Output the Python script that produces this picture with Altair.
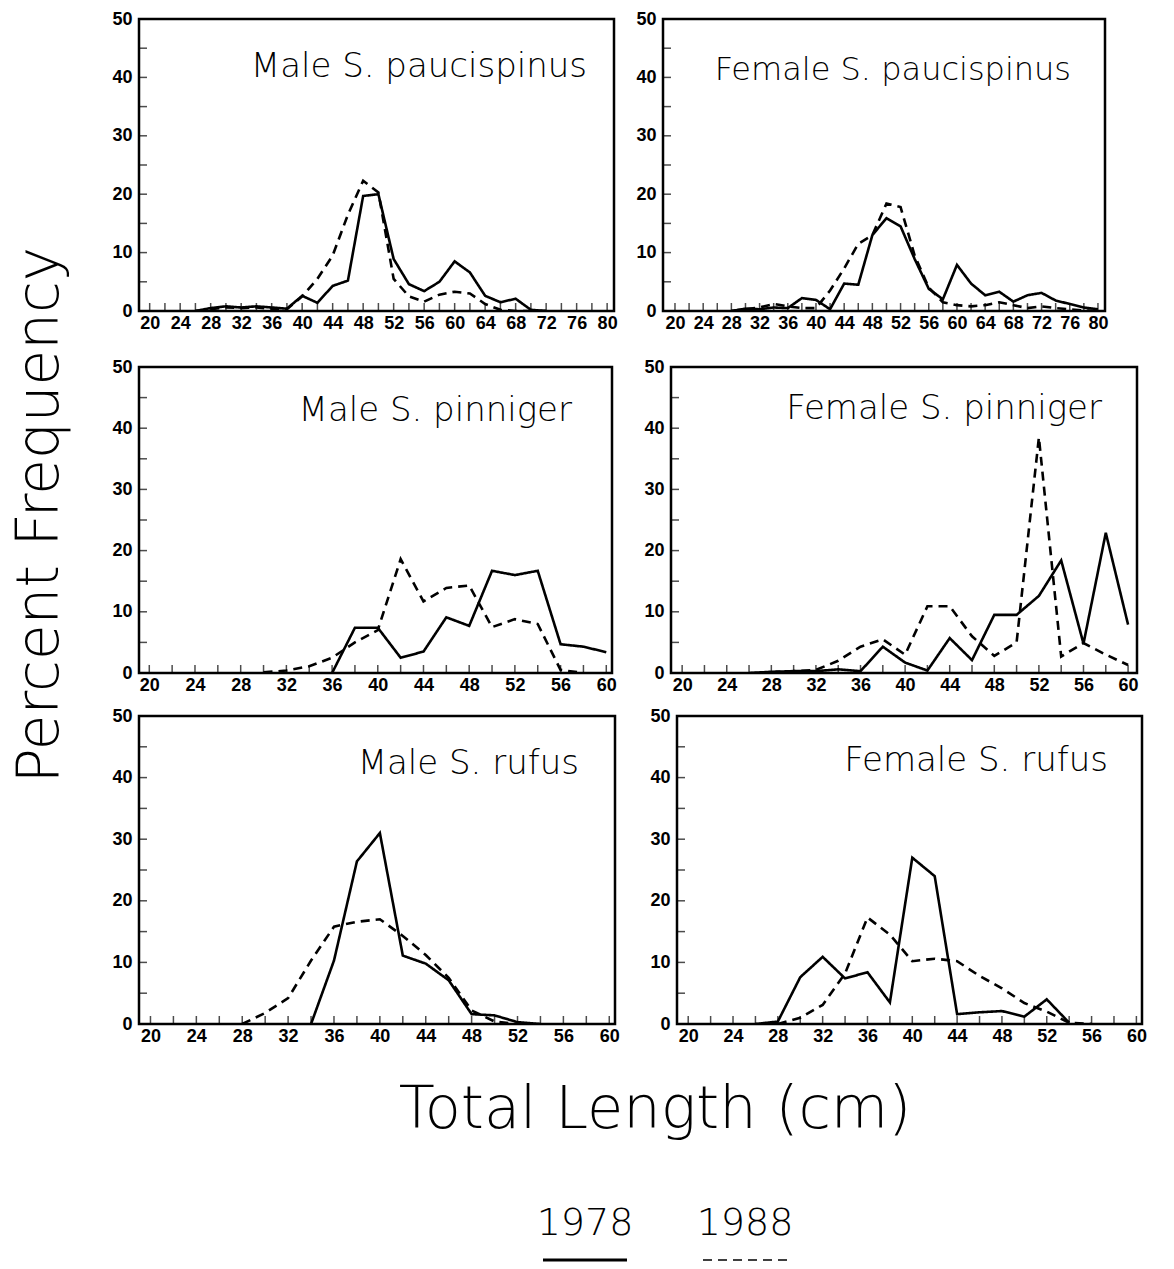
import altair as alt
import pandas as pd

YEARS = ["1978", "1988"]

# ---- Male S. paucispinus ----
X_MPAUC = [26, 28, 30, 32, 34, 36, 38, 40, 42, 44, 46, 48, 50, 52, 54, 56, 58, 60, 62, 64, 66, 68, 70, 72]
MPAUC_1978 = [0, 0.5, 0.8, 0.6, 0.8, 0.6, 0.4, 2.6, 1.4, 4.3, 5.2, 19.7, 20.0, 8.9, 4.6, 3.4, 5.0, 8.5, 6.6, 2.6, 1.5, 2.1, 0.2, 0]
MPAUC_1988 = [0, 0.3, 0.6, 0.5, 0.6, 0.4, 0.3, 2.5, 5.5, 9.5, 16.5, 22.3, 20.3, 5.5, 2.5, 1.6, 2.8, 3.3, 3.0, 1.2, 0.2, 0, 0, 0]

# ---- Female S. paucispinus ----
X_FPAUC = [28, 30, 32, 34, 36, 38, 40, 42, 44, 46, 48, 50, 52, 54, 56, 58, 60, 62, 64, 66, 68, 70, 72, 74, 76, 78, 80]
FPAUC_1978 = [0, 0.4, 0.3, 0.6, 0.5, 2.2, 1.9, 0.3, 4.7, 4.5, 13.0, 15.9, 14.5, 8.9, 3.8, 2.0, 7.9, 4.7, 2.7, 3.3, 1.6, 2.7, 3.1, 1.8, 1.2, 0.6, 0.3]
FPAUC_1988 = [0, 0.3, 0.6, 1.2, 0.8, 0.5, 0.5, 3.5, 7.3, 11.5, 13.0, 18.4, 17.8, 9.5, 4.0, 1.5, 1.0, 0.8, 1.0, 1.5, 1.0, 0.5, 0.8, 0.5, 0.3, 0.1, 0]

# lengths 20..60 for the other four panels
X_60 = [20, 22, 24, 26, 28, 30, 32, 34, 36, 38, 40, 42, 44, 46, 48, 50, 52, 54, 56, 58, 60]
N = None
MPINN_1978 = [N, N, N, N, N, N, N, N, 0, 7.4, 7.4, 2.5, 3.5, 9.1, 7.7, 16.7, 16.0, 16.7, 4.7, 4.3, 3.4]
MPINN_1988 = [N, N, N, N, N, 0.1, 0.4, 1.1, 2.5, 5.0, 7.0, 18.6, 11.7, 13.9, 14.3, 7.5, 8.8, 8.0, 0.5, 0, N]
FPINN_1978 = [N, N, N, 0, 0.2, 0.3, 0.3, 0.6, 0.3, 4.3, 1.7, 0.4, 5.7, 2.1, 9.5, 9.5, 12.6, 18.4, 4.8, 22.9, 7.9]
FPINN_1988 = [N, N, N, N, 0.1, 0.3, 0.5, 2.0, 4.3, 5.5, 3.0, 10.9, 10.9, 6.0, 2.8, 5.0, 38.5, 2.7, 4.9, 3.0, 1.3]
MRUF_1978 = [N, N, N, N, N, N, N, 0, 10.3, 26.4, 31.0, 11.1, 9.8, 7.1, 1.6, 1.4, 0.3, 0, N, N, N]
MRUF_1988 = [N, N, N, N, 0, 1.8, 4.2, 10.3, 15.8, 16.6, 17.0, 14.3, 11.2, 7.5, 2.2, 0.4, 0, N, N, N, N]
FRUF_1978 = [N, N, N, 0, 0.4, 7.6, 10.9, 7.4, 8.4, 3.5, 27.0, 24.0, 1.6, 1.9, 2.1, 1.2, 4.0, 0.2, N, N, N]
FRUF_1988 = [N, N, N, N, 0, 1.0, 3.1, 8.2, 17.3, 14.5, 10.2, 10.6, 10.2, 7.8, 5.8, 3.4, 2.0, 0.2, 0, N, N]

Y_LABELS = [0, 10, 20, 30, 40, 50]
Y_MINOR = [5, 10, 15, 20, 25, 30, 35, 40, 45]

TITLE_FONT = "DejaVu Sans"
TITLE_WEIGHT = 200
LABEL_FONT = "Liberation Sans"
NO_FRAME = alt.ViewBackground(stroke=None)


def panel(title, xs, s78, s88, domain, xmax_label, W, H, inset, base, tsize=34):
    rows = []
    for x, a, b in zip(xs, s78, s88):
        if a is not None:
            rows.append({"length": x, "pct": a, "year": "1978"})
        if b is not None:
            rows.append({"length": x, "pct": b, "year": "1988"})
    df = pd.DataFrame(rows)
    xscale = alt.Scale(domain=domain, nice=False, zero=False)
    yscale = alt.Scale(domain=[0, 50], nice=False, zero=False)
    xlabels = list(range(20, xmax_label + 1, 4))
    xminor = list(range(20, xmax_label + 1, 2))
    xaxis = alt.Axis(values=xlabels, labelPadding=3, title=None)
    yaxis = alt.Axis(values=Y_LABELS, labelPadding=7, title=None)

    lines = alt.Chart(df).mark_line(color="black", strokeWidth=2.6, clip=True).encode(
        x=alt.X("length:Q", scale=xscale, axis=xaxis),
        y=alt.Y("pct:Q", scale=yscale, axis=yaxis),
        strokeDash=alt.StrokeDash("year:N",
                                  scale=alt.Scale(domain=YEARS, range=[[1, 0], [9, 6]]),
                                  legend=None),
    )
    xt = alt.Chart(pd.DataFrame({"t": xminor})).mark_tick(
        orient="vertical", size=8, thickness=1.5, color="black", yOffset=-4
    ).encode(x=alt.X("t:Q", scale=xscale, axis=xaxis), y=alt.datum(0, axis=yaxis))
    yt = alt.Chart(pd.DataFrame({"t": Y_MINOR})).mark_tick(
        orient="horizontal", size=8, thickness=1.5, color="black", xOffset=4
    ).encode(y=alt.Y("t:Q", scale=yscale, axis=yaxis), x=alt.datum(domain[0], axis=xaxis))
    txt = alt.Chart(pd.DataFrame({"t": [title]})).mark_text(
        align="right", baseline="alphabetic", font=TITLE_FONT, fontWeight=TITLE_WEIGHT,
        fontSize=tsize, color="black"
    ).encode(text="t:N", x=alt.value(W - inset), y=alt.value(base))
    return alt.layer(lines, xt, yt, txt).properties(width=W, height=H)


p1 = panel("Male S. paucispinus", X_MPAUC, MPAUC_1978, MPAUC_1988, [18.6, 80.9], 80, 475, 292, 27, 58)
p2 = panel("Female S. paucispinus", X_FPAUC, FPAUC_1978, FPAUC_1988, [18.3, 81.0], 80, 442, 292, 34, 61, 32)
p3 = panel("Male S. pinniger", X_60, MPINN_1978, MPINN_1988, [19.1, 60.5], 60, 473, 306, 40, 54)
p4 = panel("Female S. pinniger", X_60, FPINN_1978, FPINN_1988, [19.0, 60.8], 60, 466, 306, 35, 52)
p5 = panel("Male S. rufus", X_60, MRUF_1978, MRUF_1988, [19.0, 60.5], 60, 476, 308, 36, 58)
p6 = panel("Female S. rufus", X_60, FRUF_1978, FRUF_1988, [19.0, 60.5], 60, 465, 308, 34, 55)

row1 = alt.hconcat(p1, p2, spacing=15)
row2 = alt.hconcat(p3, p4, spacing=24)
row3 = alt.hconcat(p5, p6, spacing=27)
grid = alt.vconcat(row1, alt.vconcat(row2, row3, spacing=9), spacing=22)

# rotated y title as its own text panel
ylab = alt.Chart(pd.DataFrame({"t": ["Percent Frequency"]})).mark_text(
    angle=270, align="center", baseline="middle", font=TITLE_FONT,
    fontWeight=TITLE_WEIGHT, fontSize=58, color="black"
).encode(text="t:N", x=alt.value(33), y=alt.value(496)).properties(
    width=80, height=1000, view=NO_FRAME
)

upper = alt.hconcat(ylab, grid, spacing=22)

# footer: x title and legend
xtitle = alt.Chart(pd.DataFrame({"t": ["Total Length (cm)"]})).mark_text(
    align="center", baseline="middle", font=TITLE_FONT, fontWeight=TITLE_WEIGHT,
    fontSize=59, color="black"
).encode(text="t:N", x=alt.value(647), y=alt.value(53))

leg_df = pd.DataFrame({"year": YEARS})
leg_x = alt.X("year:N", scale=alt.Scale(type="point", domain=YEARS, range=[577, 737], padding=0), axis=None)
leg_text = alt.Chart(leg_df).mark_text(
    font=TITLE_FONT, fontWeight=TITLE_WEIGHT, fontSize=38, color="black", baseline="middle"
).encode(x=leg_x, y=alt.value(167), text="year:N")
leg_line = alt.Chart(leg_df).mark_rule(color="black", xOffset=-42, x2Offset=42).encode(
    x=leg_x, x2="year:N", y=alt.value(203),
    strokeDash=alt.StrokeDash("year:N", scale=alt.Scale(domain=YEARS, range=[[1, 0], [4, 4]]), legend=None),
    strokeWidth=alt.StrokeWidth("year:N", scale=alt.Scale(domain=YEARS, range=[3, 1.5]), legend=None),
)
footer = alt.layer(xtitle, leg_text, leg_line).properties(width=1000, height=208, view=NO_FRAME)

chart = alt.vconcat(upper, footer, spacing=10).properties(padding=0).configure_view(
    stroke="black", strokeWidth=2.5
).configure_axis(
    ticks=False, tickSize=0, domain=False, grid=False,
    labelFont=LABEL_FONT, labelFontWeight="bold", labelFontSize=18, labelColor="black",
    labelOverlap=False,
)

chart.save("out.html", embed_options={"renderer": "svg", "actions": False})
